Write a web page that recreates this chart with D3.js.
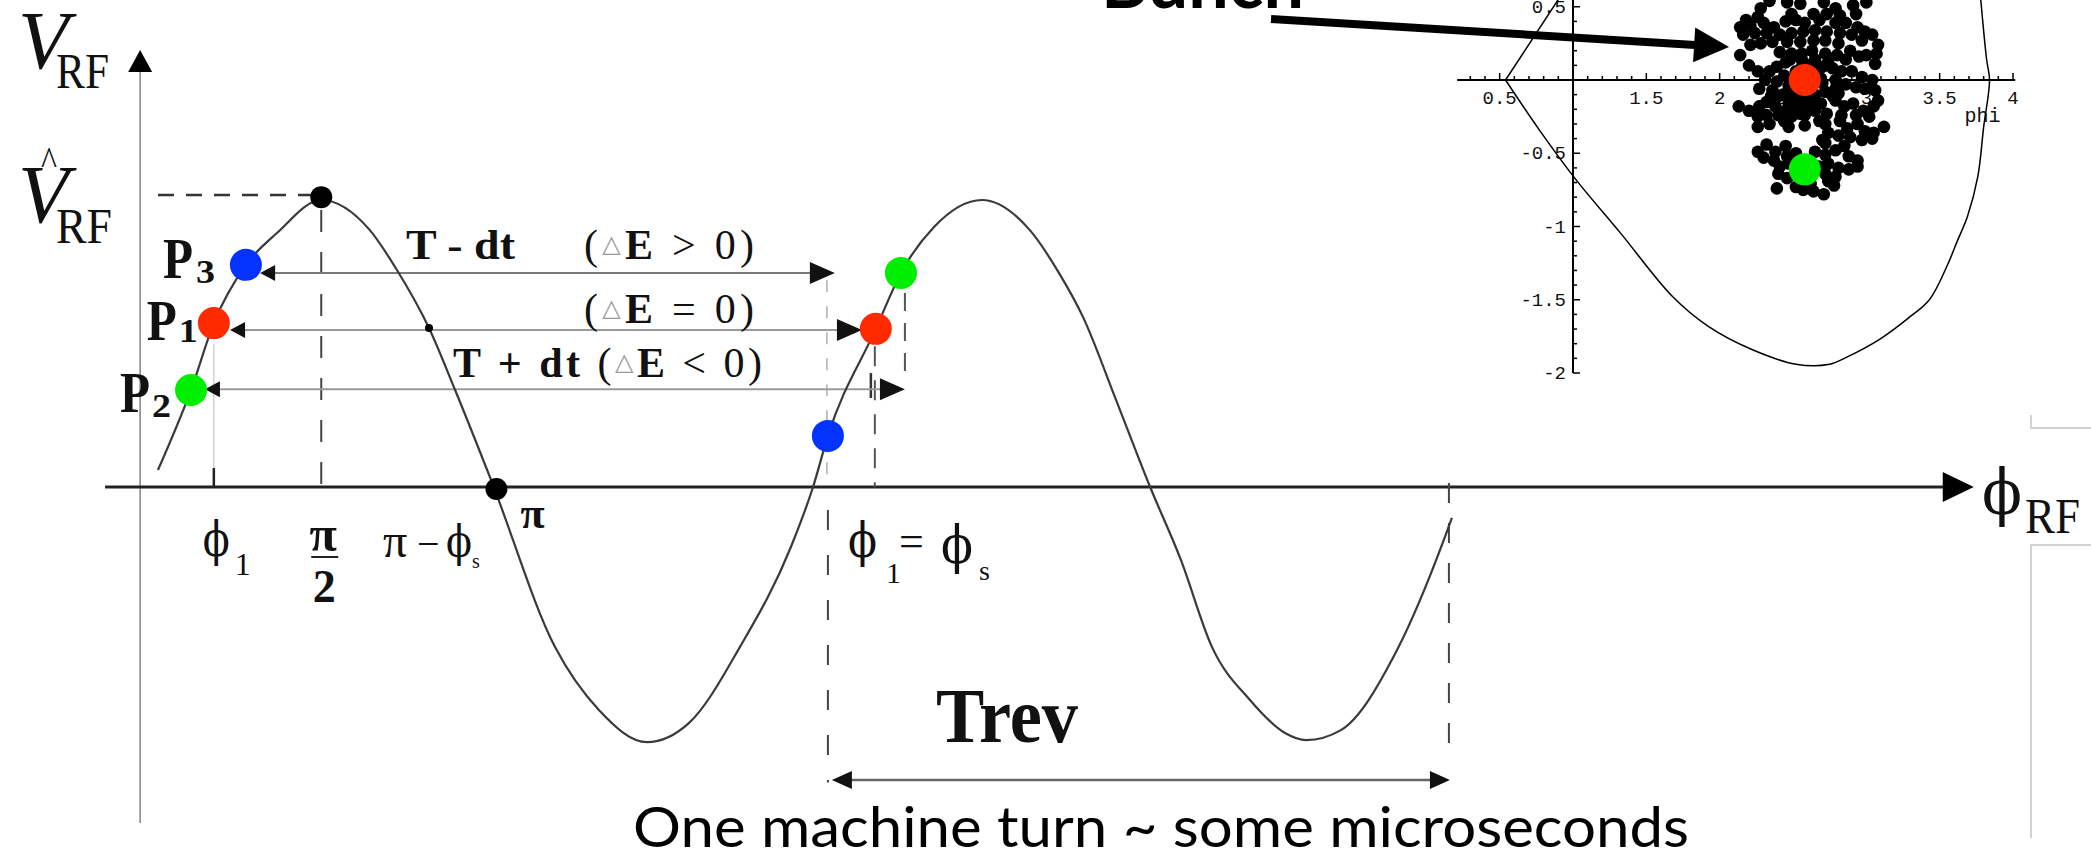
<!DOCTYPE html>
<meta charset="utf-8">
<style>
body { margin: 0; background: #fff; }
svg { display: block; }
.serif { font-family: "Liberation Serif", "Times New Roman", serif; fill: #111; }
.phi { font-family: "DejaVu Serif", serif; fill: #111; }
.mono { font-family: "Liberation Mono", "Courier New", monospace; fill: #111; }
.gill { font-family: Lato, "Open Sans", sans-serif; fill: #000; }
</style>
<svg width="2091" height="855"></svg>
<script src="https://cdn.jsdelivr.net/npm/d3@7"></script>
<script>

// RF wave: phase in units of pi, voltage relative to the crest
var wavePhase = [0.006, 0.106, 0.175, 0.272, 0.366, 0.5, 0.647, 0.729, 0.826, 0.905, 1.014, 1.207, 1.340, 1.486, 1.613, 1.767, 1.921, 1.988,
                 2.033, 2.178, 2.254, 2.354, 2.499, 2.644, 2.732, 2.805, 2.905, 3.008, 3.101, 3.195, 3.310, 3.416, 3.480, 3.585, 3.755, 3.900, 3.921];
var waveVolt  = [0.059, 0.338, 0.571, 0.774, 0.885, 1.0, 0.895, 0.756, 0.554, 0.338, 0.024, -0.557, -0.777, -0.889, -0.822, -0.557, -0.209, 0,
                 0.178, 0.551, 0.746, 0.906, 1.0, 0.895, 0.746, 0.592, 0.303, 0, -0.254, -0.557, -0.742, -0.857, -0.882, -0.847, -0.568, -0.174, -0.108];

// the three particles, first pass and one turn later
var particleNames  = ["1", "2", "3"];
var particleColors = ["#ff2a00", "#00ee00", "#0433ff"];
var firstPhase = [0.175, 0.106, 0.272];
var firstVolt  = [0.571, 0.338, 0.774];
var nextPhase  = [2.178, 2.254, 2.033];
var nextVolt   = [0.551, 0.746, 0.178];

// black markers on the wave: crest, pi crossing, small dot
var markPhase = [0.5, 1.03, 0.826];
var markVolt  = [1.01, -0.007, 0.554];

// transit arrows
var transitTime = ["T - dt", "", "T + dt"];
var transitRel  = [">", "=", "<"];
var transitVolt = [0.746, 0.547, 0.341];
var transitFrom = [0.315, 0.224, 0.148];
var transitTo   = [2.054, 2.136, 2.266];

// one revolution
var trevFrom = 2.045, trevTo = 3.915;

// phase space inset: separatrix (phi, dE)
var sepUpperPhi = [0.90, 0.54];
var sepUpperDE  = [0.55, 0];
var sepLowerPhi = [0.54, 0.77, 1.02, 1.32, 1.68, 1.92, 2.22, 2.52, 2.75, 2.87, 3.09, 3.28, 3.43, 3.55, 3.62, 3.69, 3.76, 3.80, 3.84, 3.82, 3.78];
var sepLowerDE  = [0, -0.34, -0.68, -1.04, -1.48, -1.68, -1.84, -1.94, -1.94, -1.89, -1.77, -1.63, -1.50, -1.27, -1.10, -0.93, -0.66, -0.32, 0, 0.14, 0.55];

// bunch particles (phi, dE)
var bunch = [
  [2.28,0.49],[2.34,0.54],[2.46,0.53],[2.55,0.52],[2.71,0.53],[2.79,0.49],[2.91,0.51],[3.00,0.53],[2.49,0.45],[2.64,0.45],[2.73,0.45],[2.82,0.44],[2.93,0.45],[2.18,0.41],[2.26,0.43],
  [2.14,0.36],[2.21,0.37],[2.30,0.39],[2.37,0.36],[2.45,0.40],[2.52,0.41],[2.58,0.39],[2.68,0.41],[2.79,0.39],[2.86,0.39],[2.94,0.36],[2.99,0.33],[3.04,0.31],[2.16,0.31],[2.24,0.32],
  [2.32,0.32],[2.41,0.31],[2.49,0.32],[2.57,0.33],[2.65,0.34],[2.73,0.33],[2.82,0.32],[2.90,0.31],[2.97,0.27],
  [2.21,0.24],[2.28,0.25],[2.36,0.26],[2.46,0.26],[2.55,0.26],[2.64,0.27],[2.72,0.27],[2.81,0.25],[2.89,0.20],[2.95,0.16],[3.08,0.24],[3.07,0.18],[3.06,0.11],[3.00,0.17],[2.14,0.17],
  [2.41,0.19],[2.49,0.18],[2.56,0.18],[2.63,0.20],[2.72,0.18],[2.80,0.17],[2.86,0.14],
  [2.20,0.10],[2.26,0.06],[2.34,0.06],[2.39,0.09],[2.45,0.12],[2.70,0.09],[2.77,0.08],[2.83,0.06],[2.90,0.06],[2.97,0.02],[3.04,0.00],[2.31,0.00],[2.39,-0.01],[2.44,0.03],
  [2.27,-0.06],[2.36,-0.07],[2.43,-0.10],[2.49,-0.11],[2.56,-0.11],[2.65,-0.10],[2.72,-0.08],[2.79,-0.06],[2.86,-0.03],[2.93,-0.05],[2.99,-0.06],[3.06,-0.07],[2.49,-0.07],[2.70,-0.02],[2.79,0.00],
  [2.13,-0.18],[2.20,-0.21],[2.27,-0.18],[2.32,-0.15],[2.38,-0.18],[2.45,-0.21],[2.52,-0.18],[2.61,-0.18],[2.69,-0.16],[2.79,-0.14],[2.85,-0.18],[2.91,-0.16],[2.98,-0.21],[3.05,-0.18],[3.08,-0.14],
  [2.26,-0.25],[2.32,-0.24],[2.40,-0.24],[2.49,-0.25],[2.55,-0.23],[2.73,-0.23],[2.83,-0.24],[2.93,-0.24],[3.02,-0.25],
  [2.26,-0.32],[2.34,-0.30],[2.44,-0.28],[2.47,-0.32],[2.58,-0.31],[2.68,-0.28],[2.72,-0.30],[2.82,-0.28],[2.87,-0.33],[2.94,-0.30],[2.99,-0.35],[3.05,-0.36],[3.12,-0.32],[2.74,-0.36],[2.81,-0.38],
  [2.89,-0.39],[2.97,-0.41],[3.04,-0.40],[2.70,-0.41],
  [2.26,-0.49],[2.32,-0.44],[2.38,-0.49],[2.45,-0.45],[2.30,-0.53],[2.37,-0.55],[2.46,-0.52],[2.52,-0.50],[2.65,-0.49],[2.72,-0.51],[2.79,-0.48],[2.85,-0.45],[2.88,-0.52],[2.94,-0.55],[2.72,-0.43],
  [2.41,-0.59],[2.47,-0.57],[2.40,-0.64],[2.46,-0.67],[2.68,-0.59],[2.74,-0.57],[2.81,-0.60],[2.88,-0.61],[2.94,-0.59],[2.72,-0.64],[2.79,-0.66],[2.74,-0.69],[2.39,-0.74],[2.52,-0.73],[2.57,-0.75],
  [2.64,-0.76],[2.71,-0.78],[2.62,-0.71],[2.78,-0.72],
  [2.52,0.06],[2.65,0.06],[2.69,0.01],[2.47,-0.04],[2.61,-0.06],[2.56,0.14],[2.65,0.14],[2.48,0.14],[2.63,0.11],[2.74,0.12],[2.56,0.09],[2.62,-0.13],[2.53,-0.13],[2.47,-0.16],[2.57,-0.16],
  [2.65,-0.21],[2.58,-0.24],[2.40,-0.11],[2.35,-0.11],[2.77,-0.11],[2.81,-0.09]
];

// synchronous (red) and displaced (green) particle in the inset
var syncPhi = [2.58, 2.58];
var syncDE  = [0, -0.61];
var syncColors = ["#ff2a00", "#00ee00"];

var insetXTicks = [0.5, 1.5, 2, 2.5, 3, 3.5, 4];
var insetYTicks = [0.5, -0.5, -1, -1.5, -2];

var svg = d3.select("svg");

var x = d3.scaleLinear().domain([0, 4]).range([156, 1478]);
var y = d3.scaleLinear().domain([-1, 1]).range([774, 200]);

// arrow head with tip at (tx,ty) pointing along the unit vector (dx,dy)
function head(tx, ty, dx, dy, len, half) {
  var bx = tx - dx * len, by = ty - dy * len;
  return "M" + tx + "," + ty +
    "L" + (bx - dy * half) + "," + (by + dx * half) +
    "L" + (bx + dy * half) + "," + (by - dx * half) + "Z";
}

// slide frame remnants on the right
var frame = svg.append("g").attr("fill", "none").attr("stroke", "#d2d2d2").attr("stroke-width", 2);
frame.append("path").attr("d", "M2031,415V428H2091");
frame.append("path").attr("d", "M2091,545H2031V838");

// AXES
var axisPhase = -0.048;
svg.append("line")
    .attr("x1", x(axisPhase)).attr("x2", x(axisPhase))
    .attr("y1", y(1.45)).attr("y2", y(-1.171))
    .attr("stroke", "#8a8a8a").attr("stroke-width", 1.6);
svg.append("path").attr("d", head(x(axisPhase), y(1.523), 0, -1, 22, 12)).attr("fill", "#000");

svg.append("line")
    .attr("x1", x(-0.154)).attr("x2", x(5.50) - 28)
    .attr("y1", y(0)).attr("y2", y(0))
    .attr("stroke", "#222").attr("stroke-width", 3);
svg.append("path").attr("d", head(x(5.50), y(0), 1, 0, 31, 15)).attr("fill", "#000");

// GUIDE LINES
var guides = svg.append("g").attr("fill", "none");
function guide(u1, v1, u2, v2, col, w, dash) {
  guides.append("line")
      .attr("x1", x(u1)).attr("y1", y(v1))
      .attr("x2", x(u2)).attr("y2", y(v2))
      .attr("stroke", col).attr("stroke-width", w)
      .attr("stroke-dasharray", dash || null);
}
guide(0.006, 1.017, 0.472, 1.017, "#333", 2.5, "16,12");   // crest level
guide(0.5, 0.965, 0.5, 0, "#444", 2, "22,20");             // pi/2
guide(0.175, 0.50, 0.175, 0.066, "#d4d4d4", 1.5);           // phi1 guide
guide(0.175, 0.066, 0.175, 0, "#222", 2.5);                 // phi1 tick
guide(2.030, 0.72, 2.030, 0, "#b0b0b0", 1.5, "12,14");
guide(2.175, 0.49, 2.175, 0, "#555", 2, "20,14");
guide(2.266, 0.676, 2.266, 0.383, "#555", 2, "18,12");
guide(2.163, 0.397, 2.163, 0.310, "#333", 2.5);
guide(2.033, -0.08, 2.033, -1.03, "#444", 2, "20,25");      // revolution start
guide(3.912, 0.014, 3.912, -0.91, "#444", 2, "20,20");      // revolution end

// TRANSIT ARROWS
transitVolt.forEach(function(v, i) {
  var yy = y(v);
  svg.append("line")
      .attr("x1", x(transitFrom[i]) + 8).attr("x2", x(transitTo[i]) - 20)
      .attr("y1", yy).attr("y2", yy)
      .attr("stroke", i == 0 ? "#7a7a7a" : "#9a9a9a").attr("stroke-width", 2);
  svg.append("path").attr("d", head(x(transitFrom[i]), yy, -1, 0, 15, 8)).attr("fill", "#111");
  svg.append("path").attr("d", head(x(transitTo[i]), yy, 1, 0, 25, 11)).attr("fill", "#111");
});

// revolution arrow
svg.append("line")
    .attr("x1", x(trevFrom) + 15).attr("x2", x(trevTo) - 15)
    .attr("y1", y(-1.021)).attr("y2", y(-1.021))
    .attr("stroke", "#666").attr("stroke-width", 2.5);
svg.append("path").attr("d", head(x(trevFrom), y(-1.021), -1, 0, 20, 9)).attr("fill", "#111");
svg.append("path").attr("d", head(x(trevTo), y(-1.021), 1, 0, 20, 9)).attr("fill", "#111");

// WAVE
var line = d3.line()
    .x(function(d) { return x(d[0]); })
    .y(function(d) { return y(d[1]); })
    .curve(d3.curveMonotoneX);
svg.append("path")
    .datum(d3.zip(wavePhase, waveVolt))
    .attr("d", line)
    .attr("fill", "none").attr("stroke", "#3a3a3a").attr("stroke-width", 2.2);

svg.selectAll("circle.mark")
    .data(d3.zip(markPhase, markVolt))
  .enter().append("circle")
    .attr("class", "mark")
    .attr("cx", function(d) { return x(d[0]); })
    .attr("cy", function(d) { return y(d[1]); })
    .attr("r", function(d, i) { return i < 2 ? 11 : 4; })
    .attr("fill", "#000");

// particles
[firstPhase, nextPhase].forEach(function(ph, k) {
  var vv = k == 0 ? firstVolt : nextVolt;
  svg.selectAll(null)
      .data(ph)
    .enter().append("circle")
      .attr("cx", function(d) { return x(d); })
      .attr("cy", function(d, i) { return y(vv[i]); })
      .attr("r", 16)
      .attr("fill", function(d, i) { return particleColors[i]; });
});

// LABELS
function t(px, py, str, size, extra) {
  var e = svg.append("text").attr("class", "serif")
      .attr("x", px).attr("y", py)
      .attr("font-size", size).text(str);
  if (extra) extra(e);
  return e;
}
function bold(e) { e.attr("font-weight", "bold"); }
function ital(e) { e.attr("font-style", "italic"); }
// stroked phi glyph
function phi(px, py, size, w) {
  return svg.append("text").attr("class", "phi")
      .attr("x", px).attr("y", py).attr("font-size", size)
      .attr("textLength", w).attr("lengthAdjust", "spacingAndGlyphs")
      .text("\u03D5");
}

// vertical axis labels
t(18, 68, "V", 83, ital);
t(56, 88, "RF", 50).attr("textLength", 53).attr("lengthAdjust", "spacingAndGlyphs");
t(18, 222, "V", 83, ital);
t(41, 175, "^", 40).attr("textLength", 16).attr("lengthAdjust", "spacingAndGlyphs");
t(56, 243, "RF", 50).attr("textLength", 56).attr("lengthAdjust", "spacingAndGlyphs");

// P labels (anchor from the particle dots)
var pOffsets = [[-67, 17, -35, 19], [-71, 22, -39, 27], [-83, 13, -50, 18]];
particleNames.forEach(function(n, i) {
  var px = x(firstPhase[i]), py = y(firstVolt[i]), o = pOffsets[i];
  t(px + o[0], py + o[1], "P", 56, bold).attr("textLength", 30).attr("lengthAdjust", "spacingAndGlyphs");
  t(px + o[2], py + o[3], n, 34, bold).attr("textLength", 19).attr("lengthAdjust", "spacingAndGlyphs");
});

// transit labels
t(406, 259, transitTime[0], 43, bold).attr("textLength", 109).attr("lengthAdjust", "spacingAndGlyphs");
var relX = [584, 584, 453], relW = [170, 170, 309], relY = [259, 323, 377];
transitRel.forEach(function(r, i) {
  var e = t(relX[i], relY[i], "", 42)
      .attr("textLength", relW[i]).attr("lengthAdjust", "spacing");
  if (transitTime[i] && i == 2) e.append("tspan").attr("font-weight", "bold").text(transitTime[i] + " ");
  e.append("tspan").text("(");
  e.append("tspan").attr("dy", -7).attr("font-size", 24)
      .style("font-family", "'DejaVu Sans', sans-serif").attr("fill", "#9a9a9a").text("\u25B3");
  e.append("tspan").attr("dy", 7).attr("font-weight", "bold").text("E");
  e.append("tspan").text(" " + r + " 0)");
});

// phase axis labels
phi(x(0.175) - 11, 556, 48, 27);
t(x(0.175) + 21, 575, "1", 32);
t(x(0.5) + 2, 551, "\u03C0", 50, bold).attr("text-anchor", "middle");
svg.append("line").attr("x1", x(0.5) - 10).attr("x2", x(0.5) + 17)
    .attr("y1", 557).attr("y2", 557).attr("stroke", "#222").attr("stroke-width", 2);
t(x(0.5) + 3, 602, "2", 46, bold).attr("text-anchor", "middle");
t(383, 557, "\u03C0", 48);
t(417, 557, "\u2212", 40);
phi(446, 557, 44, 26);
t(472, 568, "s", 20);
t(x(1.03) + 24, 528, "\u03C0", 44, bold);

phi(848, 557, 48, 29);
t(886, 583, "1", 30);
t(899, 556, "=", 44);
phi(941, 563, 52, 32);
t(979, 580, "s", 28);

t(936, 742, "Trev", 78, bold).attr("textLength", 142).attr("lengthAdjust", "spacingAndGlyphs");

phi(1982, 514, 64, 40);
t(2025, 533, "RF", 50).attr("textLength", 55).attr("lengthAdjust", "spacingAndGlyphs");

svg.append("text").attr("class", "gill")
    .attr("x", 633).attr("y", 847)
    .attr("font-size", 56)
    .attr("textLength", 1056).attr("lengthAdjust", "spacingAndGlyphs")
    .text("One machine turn ~ some microseconds");

// INSET: phase space
var ix = d3.scaleLinear().domain([1, 4]).range([1573, 2013]);
var iy = d3.scaleLinear().domain([0, -2]).range([80, 373]);
var inset = svg.append("g");

inset.append("line").attr("x1", ix(0.21)).attr("x2", ix(4.015))
    .attr("y1", iy(0)).attr("y2", iy(0)).attr("stroke", "#000").attr("stroke-width", 2);
inset.append("line").attr("x1", ix(1)).attr("x2", ix(1))
    .attr("y1", iy(0.6)).attr("y2", iy(-2)).attr("stroke", "#000").attr("stroke-width", 2);

d3.range(3, 41).forEach(function(i) {
  var len = i % 5 == 0 ? 7 : 4;
  inset.append("line").attr("x1", ix(i / 10)).attr("x2", ix(i / 10))
      .attr("y1", iy(0)).attr("y2", iy(0) - len).attr("stroke", "#000").attr("stroke-width", 1.5);
});
d3.range(-20, 6).forEach(function(i) {
  var len = i % 5 == 0 ? 7 : 4;
  inset.append("line").attr("x1", ix(1)).attr("x2", ix(1) + len)
      .attr("y1", iy(i / 10)).attr("y2", iy(i / 10)).attr("stroke", "#000").attr("stroke-width", 1.5);
});

inset.selectAll("text.xt").data(insetXTicks).enter().append("text")
    .attr("class", "mono").attr("font-size", 19)
    .attr("x", function(d) { return ix(d); }).attr("y", iy(0) + 24)
    .attr("text-anchor", "middle")
    .text(function(d) { return d; });
inset.selectAll("text.yt").data(insetYTicks).enter().append("text")
    .attr("class", "mono").attr("font-size", 19)
    .attr("x", ix(1) - 7).attr("y", function(d) { return iy(d) + 6; })
    .attr("text-anchor", "end")
    .text(function(d) { return d < 0 ? "-" + Math.abs(d) : d; });
inset.append("text").attr("class", "mono").attr("font-size", 20)
    .attr("x", ix(3.67)).attr("y", iy(-0.29)).text("phi");

var sep = d3.line()
    .x(function(d) { return ix(d[0]); })
    .y(function(d) { return iy(d[1]); });
inset.append("path").datum(d3.zip(sepUpperPhi, sepUpperDE))
    .attr("d", sep).attr("fill", "none").attr("stroke", "#000").attr("stroke-width", 1.5);
inset.append("path").datum(d3.zip(sepLowerPhi, sepLowerDE))
    .attr("d", sep.curve(d3.curveCatmullRom))
    .attr("fill", "none").attr("stroke", "#000").attr("stroke-width", 1.5);

inset.selectAll("circle.p").data(bunch).enter().append("circle")
    .attr("cx", function(d) { return ix(d[0]); })
    .attr("cy", function(d) { return iy(d[1]); })
    .attr("r", 6.3).attr("fill", "#000");

inset.selectAll("circle.s").data(syncPhi).enter().append("circle")
    .attr("cx", function(d) { return ix(d); })
    .attr("cy", function(d, i) { return iy(syncDE[i]); })
    .attr("r", 16)
    .attr("fill", function(d, i) { return syncColors[i]; });

// "Bunch" label and pointer
svg.append("text").attr("class", "gill")
    .attr("x", 1101).attr("y", 8)
    .attr("font-size", 72).attr("font-weight", "bold")
    .attr("textLength", 203).attr("lengthAdjust", "spacingAndGlyphs")
    .text("Bunch");
var tipX = ix(2.064), tipY = iy(0.225), sx = 1271, sy = 19;
var L = Math.hypot(tipX - sx, tipY - sy), ux = (tipX - sx) / L, uy = (tipY - sy) / L;
svg.append("line").attr("x1", sx).attr("y1", sy)
    .attr("x2", tipX - ux * 30).attr("y2", tipY - uy * 30)
    .attr("stroke", "#000").attr("stroke-width", 8);
svg.append("path").attr("d", head(tipX, tipY, ux, uy, 35, 17.5)).attr("fill", "#000");

</script>
